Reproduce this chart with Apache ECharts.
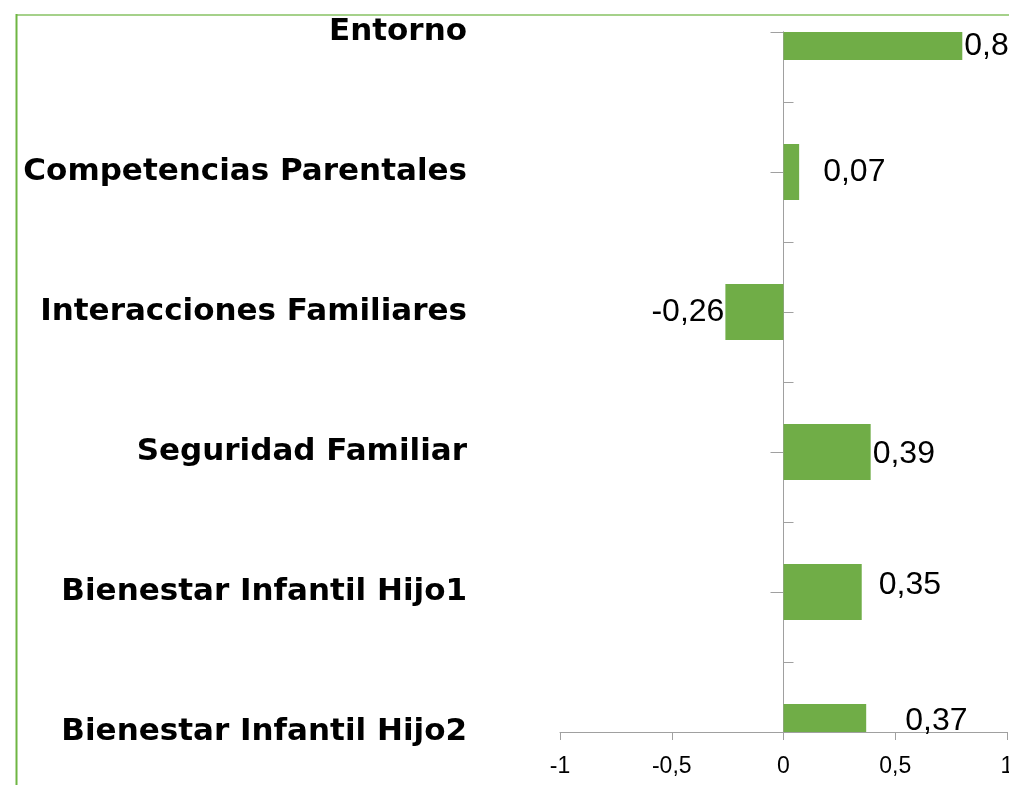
<!DOCTYPE html>
<html>
<head>
<meta charset="utf-8">
<script src="https://cdn.jsdelivr.net/npm/echarts@6/dist/echarts.min.js"></script>
<style>
  html, body { margin: 0; padding: 0; background: #fff; }
  #chart { width: 1009px; height: 785px; }
</style>
</head>
<body>
<div id="chart"></div>
<script>
// datos
const categories = ['Entorno', 'Competencias Parentales', 'Interacciones Familiares',
  'Seguridad Familiar', 'Bienestar Infantil Hijo1', 'Bienestar Infantil Hijo2'];
const values = [0.8, 0.07, -0.26, 0.39, 0.35, 0.37];
const xTicks = [-1, -0.5, 0, 0.5, 1];

// etiquetas movidas a mano en el original (solo estilo)
const labelGap = [2, 24, 1, 2, 17, 39];
const labelShiftY = [0, 0, 0, 2, -7, 3];

const GRID = { left: 560, right: 2, top: 32, bottom: 53 };
const AXIS_GREY = '#a0a0a0';
const BAR_GREEN = '#70ad47';
const comma = v => String(v).replace('.', ',');

const chart = echarts.init(document.getElementById('chart'));

// barras recortadas al area del grafico (como en Excel, la primera y la ultima salen por la mitad)
function renderBar(params, api) {
  const idx = api.value(0);
  const v = api.value(1);
  const p0 = api.coord([0, idx]);
  const p1 = api.coord([v, idx]);
  const h = api.size([0, 1])[1] * 0.4;
  const cs = params.coordSys;
  const rect = echarts.graphic.clipRectByRect(
    { x: Math.min(p0[0], p1[0]), y: p0[1] - h / 2, width: Math.abs(p1[0] - p0[0]), height: h },
    { x: cs.x, y: cs.y, width: cs.width, height: cs.height }
  );
  if (!rect) return null;
  const i = params.dataIndex;
  const neg = v < 0;
  return {
    type: 'group',
    children: [
      { type: 'rect', shape: rect, style: { fill: BAR_GREEN } },
      {
        type: 'text',
        style: {
          text: comma(v),
          x: neg ? rect.x - labelGap[i] : rect.x + rect.width + labelGap[i],
          y: rect.y + rect.height / 2 + labelShiftY[i],
          align: neg ? 'right' : 'left',
          verticalAlign: 'middle',
          fontFamily: 'Liberation Sans',
          fontSize: 32,
          fill: '#000'
        }
      }
    ]
  };
}

chart.setOption({
  animation: false,
  backgroundColor: '#fff',
  grid: Object.assign({ outerBoundsMode: 'none', containLabel: false }, GRID),
  xAxis: {
    type: 'value',
    min: xTicks[0],
    max: xTicks[xTicks.length - 1],
    interval: xTicks[1] - xTicks[0],
    axisLine: { show: true, onZero: false, lineStyle: { color: AXIS_GREY, width: 1 } },
    axisTick: { show: true, length: 8, lineStyle: { color: AXIS_GREY } },
    splitLine: { show: false },
    axisLabel: {
      formatter: comma,
      fontFamily: 'Liberation Sans',
      fontSize: 23,
      color: '#000',
      margin: 23
    }
  },
  yAxis: [
    {
      // nombres de categoria, a la izquierda
      type: 'category',
      data: categories,
      inverse: true,
      boundaryGap: false,
      position: 'left',
      axisLine: { show: false, onZero: false },
      axisTick: { show: false },
      splitLine: { show: false },
      axisLabel: {
        fontFamily: 'DejaVu Sans',
        fontWeight: 'bold',
        fontSize: 31,
        color: '#000',
        margin: 93,
        padding: [0, 0, 12, 0]
      }
    },
    {
      // linea del eje en cero con marcas hacia fuera
      type: 'value',
      min: 0, max: categories.length - 1, interval: 1,
      position: 'left',
      axisLine: { show: true, onZero: true, onZeroAxisIndex: 0, lineStyle: { color: AXIS_GREY, width: 1 } },
      axisTick: { show: true, inside: false, length: 13, lineStyle: { color: AXIS_GREY } },
      axisLabel: { show: false },
      splitLine: { show: false }
    },
    {
      // marcas intermedias hacia dentro
      type: 'value',
      min: 0, max: (categories.length - 1) * 2, interval: 1,
      position: 'left',
      axisLine: { show: true, onZero: true, onZeroAxisIndex: 0, lineStyle: { color: AXIS_GREY, width: 1 } },
      axisTick: { show: true, inside: true, length: 10, lineStyle: { color: AXIS_GREY } },
      axisLabel: { show: false },
      splitLine: { show: false }
    }
  ],
  series: [{
    type: 'custom',
    xAxisIndex: 0,
    yAxisIndex: 0,
    data: values.map((v, i) => [i, v]),
    encode: { x: 1, y: 0 },
    renderItem: renderBar,
    z: 3
  }],
  graphic: [
    { type: 'line', silent: true, shape: { x1: 16, y1: 15, x2: 1009, y2: 15 },
      style: { stroke: '#a5d18a', lineWidth: 2 } },
    { type: 'line', silent: true, shape: { x1: 16.5, y1: 14, x2: 16.5, y2: 785 },
      style: { stroke: '#6fb543', lineWidth: 2 } }
  ]
});
</script>
</body>
</html>
